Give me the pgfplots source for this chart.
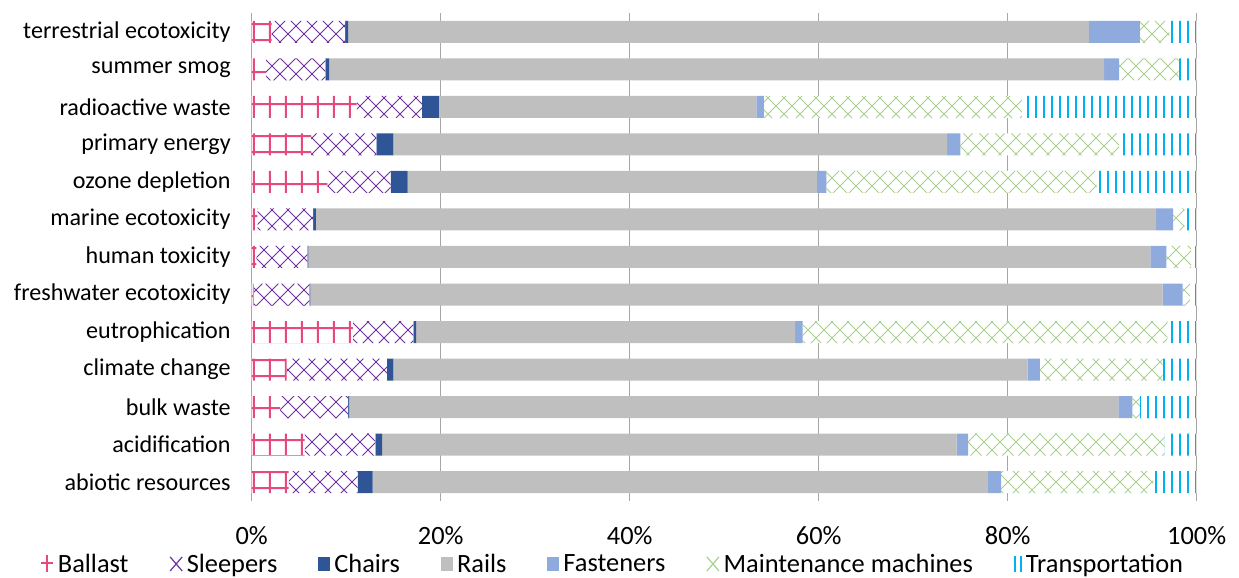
\documentclass[border=0pt]{standalone}
\usepackage{fontspec}
\setmainfont{Carlito}
\usepackage{pgfplots}
\pgfplotsset{compat=1.18}
\usepackage{pgfplotstable}
\usetikzlibrary{patterns}

\definecolor{ballast}{HTML}{E64880}
\definecolor{sleepers}{HTML}{7030A0}
\definecolor{chairs}{HTML}{2F5597}
\definecolor{rails}{HTML}{BFBFBF}
\definecolor{fasteners}{HTML}{8FAADC}
\definecolor{maint}{HTML}{A9D18E}
\definecolor{transp}{HTML}{00B0F0}
\definecolor{gridgray}{HTML}{A6A6A6}

\pgfdeclarepatternformonly{ballastgrid}{\pgfqpoint{0pt}{0pt}}{\pgfqpoint{8.2pt}{8.2pt}}{\pgfqpoint{8.2pt}{8.2pt}}{%
  \pgfsetlinewidth{1pt}%
  \pgfpathmoveto{\pgfqpoint{4.1pt}{-0.2pt}}\pgfpathlineto{\pgfqpoint{4.1pt}{8.4pt}}%
  \pgfpathmoveto{\pgfqpoint{-0.2pt}{4.1pt}}\pgfpathlineto{\pgfqpoint{8.4pt}{4.1pt}}%
  \pgfusepath{stroke}}
\pgfdeclarepatternformonly{diamonds}{\pgfqpoint{-0.3pt}{-0.3pt}}{\pgfqpoint{8.3pt}{8.3pt}}{\pgfqpoint{8pt}{8pt}}{%
  \pgfsetlinewidth{0.5pt}%
  \pgfpathmoveto{\pgfqpoint{-0.3pt}{-0.3pt}}\pgfpathlineto{\pgfqpoint{8.3pt}{8.3pt}}%
  \pgfpathmoveto{\pgfqpoint{-0.3pt}{8.3pt}}\pgfpathlineto{\pgfqpoint{8.3pt}{-0.3pt}}%
  \pgfusepath{stroke}}
\pgfdeclarepatternformonly{vstripes}{\pgfqpoint{0pt}{-1pt}}{\pgfqpoint{4pt}{41pt}}{\pgfqpoint{4pt}{40pt}}{%
  \pgfsetlinewidth{1.1pt}%
  \pgfpathmoveto{\pgfqpoint{2pt}{-1pt}}\pgfpathlineto{\pgfqpoint{2pt}{41pt}}%
  \pgfusepath{stroke}}

\pgfplotstableread{
idx B S C R F M T
0 3.9 7.3 1.6 65.1 1.4 16.1 4.6
1 5.6 7.5 0.7 60.8 1.2 20.8 3.4
2 3.0 7.2 0.1 81.4 1.5 0.8 6.0
3 3.7 10.6 0.7 67.1 1.3 13.0 3.6
4 10.7 6.4 0.3 40.1 0.8 38.6 3.1
5 0.2 5.9 0.1 90.2 2.1 0.8 0.7
6 0.5 5.4 0.1 89.1 1.7 2.6 0.6
7 0.6 5.9 0.3 88.9 1.8 1.2 1.3
8 8.0 6.7 1.8 43.3 1.0 28.6 10.6
9 6.3 6.9 1.8 58.6 1.4 16.8 8.2
10 11.1 6.9 1.8 33.6 0.8 27.3 18.5
11 1.5 6.3 0.4 82.0 1.6 6.3 1.9
12 2.1 7.8 0.3 78.4 5.4 3.1 2.9
}\data

\begin{document}
\begin{tikzpicture}
\begin{axis}[
  at={(0,0)}, anchor=south west,
  scale only axis, width=472.5pt, height=244pt,
  xbar stacked, bar width=0.586,
  xmin=0, xmax=100, ymin=-0.5, ymax=12.5,
  xtick={0,20,...,100},
  xticklabel={\pgfmathprintnumber{\tick}\%},
  ytick={0,...,12},
  yticklabels={abiotic resources, acidification, bulk waste, climate change, eutrophication, freshwater ecotoxicity, human toxicity, marine ecotoxicity, ozone depletion, primary energy, radioactive waste, summer smog, terrestrial ecotoxicity},
  major tick length=0,
  xmajorgrids, major grid style={draw=gridgray, line width=0.8pt},
  axis line style={draw=none},
  /pgf/number format/assume math mode=true,
  xticklabel style={font=\fontsize{13.2}{15}\selectfont, yshift=-9pt},
  yticklabel style={font=\fontsize{12.05}{14}\selectfont, xshift=-7pt},
  legend style={draw=none, at={(0.383,-0.131)}, anchor=center,
    font=\fontsize{13.2}{15}\selectfont, legend columns=-1,
    /tikz/every even column/.append style={column sep=18.5pt}},
  legend cell align=left,
]
\addplot[fill=white, draw=none, postaction={pattern=ballastgrid, pattern color=ballast},
  legend image code/.code={\draw[ballast,line width=0.9pt] (3pt,-3.5pt)--(3pt,5pt) (0pt,0.8pt)--(6pt,0.8pt);}]
  table[x=B,y=idx]{\data};
\addplot[fill=white, draw=none, postaction={pattern=diamonds, pattern color=sleepers},
  legend image code/.code={\draw[sleepers,line width=0.6pt] (0pt,-3pt)--(6pt,4pt) (0pt,4pt)--(6pt,-3pt);}]
  table[x=S,y=idx]{\data};
\addplot[fill=chairs, draw=none,
  legend image code/.code={\fill[chairs] (0pt,-3pt) rectangle (6pt,4pt);}]
  table[x=C,y=idx]{\data};
\addplot[fill=rails, draw=none,
  legend image code/.code={\fill[rails] (0pt,-3pt) rectangle (6pt,4pt);}]
  table[x=R,y=idx]{\data};
\addplot[fill=fasteners, draw=none,
  legend image code/.code={\fill[fasteners] (0pt,-3pt) rectangle (6pt,4pt);}]
  table[x=F,y=idx]{\data};
\addplot[fill=white, draw=none, postaction={pattern=diamonds, pattern color=maint},
  legend image code/.code={\draw[maint,line width=0.6pt] (0pt,-3pt)--(6pt,4pt) (0pt,4pt)--(6pt,-3pt);}]
  table[x=M,y=idx]{\data};
\addplot[fill=white, draw=none, postaction={pattern=vstripes, pattern color=transp},
  legend image code/.code={\draw[transp,line width=1pt] (1.5pt,-3.5pt)--(1.5pt,4.5pt) (4.5pt,-3.5pt)--(4.5pt,4.5pt);}]
  table[x=T,y=idx]{\data};
\legend{Ballast, Sleepers, Chairs, Rails, Fasteners, Maintenance machines, Transportation}
\end{axis}
\pgfresetboundingbox
\path[use as bounding box] (-125.85pt,-38.5pt) rectangle (493.65pt,250.5pt);
\end{tikzpicture}
\end{document}
